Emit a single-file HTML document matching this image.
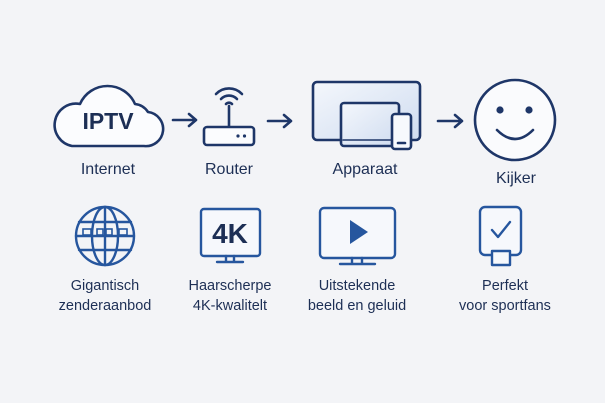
<!DOCTYPE html>
<html><head><meta charset="utf-8"><style>
html,body{margin:0;padding:0;background:#f3f4f7;}
svg{display:block}
text{font-family:"Liberation Sans",sans-serif;fill:#1d2f55;text-anchor:middle}
</style></head><body>
<svg width="605" height="403" viewBox="0 0 605 403">
<defs>
<linearGradient id="g" x1="0" y1="0" x2="1" y2="1"><stop offset="0" stop-color="#f4f7fc"/><stop offset="1" stop-color="#cfdcf0"/></linearGradient>
</defs>
<rect width="605" height="403" fill="#f3f4f7"/>
<g fill="none" stroke="#1e3668" stroke-width="2.6" stroke-linecap="round" stroke-linejoin="round">
<!-- cloud -->
<path d="M72 146 H144 A17 17 0 0 0 148 112 A18 18 0 0 0 135 104 A30 30 0 0 0 80 104 A21 21 0 0 0 72 146 Z" fill="#fbfcfe"/>
<!-- arrows -->
<path d="M173 120 H196 M189 114 L196 120 L189 126"/>
<path d="M268 121 H291 M284 115 L291 121 L284 127"/>
<path d="M438 121 H462 M455 115 L462 121 L455 127"/>
<!-- router -->
<path d="M216 94 A18 18 0 0 1 242 94 M221 99 A11 11 0 0 1 237 99 M226 104 A4 4 0 0 1 232 104"/>
<path d="M229 106 V127"/>
<rect x="204" y="127" width="50" height="18" rx="3" fill="#fbfcfe"/>
<!-- apparaat -->
<rect x="313" y="82" width="107" height="58" rx="4" fill="url(#g)"/>
<rect x="341" y="103" width="58" height="43" rx="3" fill="url(#g)"/>
<path d="M343 140 H397" stroke-width="1.5"/>
<rect x="392" y="114" width="19" height="35" rx="3" fill="#f7f9fd"/>
<path d="M398 143 H405"/>
<!-- smiley -->
<circle cx="515" cy="120" r="40" fill="#fafbfd"/>
<path d="M497 130 Q515 148 533 130"/>
</g>
<circle cx="500" cy="110" r="3.6" fill="#1e3668"/>
<circle cx="529" cy="110" r="3.6" fill="#1e3668"/>
<circle cx="238" cy="136" r="1.6" fill="#1e3668"/>
<circle cx="244.5" cy="136" r="1.6" fill="#1e3668"/>
<text x="108" y="129" font-size="23" font-weight="bold" fill="#1e3668">IPTV</text>
<g font-size="16">
<text x="108" y="174">Internet</text>
<text x="229" y="174">Router</text>
<text x="365" y="174">Apparaat</text>
<text x="516" y="183">Kijker</text>
</g>
<!-- bottom -->
<g fill="none" stroke="#26569e" stroke-width="2.4" stroke-linecap="round" stroke-linejoin="round">
<circle cx="105" cy="236" r="29"/>
<ellipse cx="105" cy="236" rx="13" ry="29"/>
<path d="M105 207 V265 M79 222 H131 M79 250 H131 M76 236 H134"/>
<rect x="201" y="209" width="59" height="47" rx="3" fill="#f6f8fc"/>
<path d="M226 256 V261 M234 256 V261 M217 262 H243"/>
<rect x="320" y="208" width="75" height="50" rx="4" fill="#f6f8fc"/>
<path d="M352 258 V263 M362 258 V263 M340 264 H375"/>
<rect x="480" y="207" width="41" height="48" rx="5" fill="#f6f8fc"/>
<rect x="492" y="251" width="18" height="14" fill="#f6f8fc"/>
<path d="M492 230 L498 237 L510 222"/>
</g>
<g fill="#f3f4f7" stroke="#26569e" stroke-width="1.6">
<rect x="83" y="229" width="8" height="6"/><rect x="97" y="229" width="6" height="6"/><rect x="106" y="229" width="6" height="6"/><rect x="119" y="229" width="8" height="6"/>
</g>
<path d="M350 220 L368 232 L350 244 Z" fill="#26569e"/>
<text x="230" y="243" font-size="28" font-weight="bold" fill="#1e4a8e">4K</text>
<g font-size="14.5">
<text x="105" y="290">Gigantisch</text><text x="105" y="310">zenderaanbod</text>
<text x="230" y="290">Haarscherpe</text><text x="230" y="310">4K-kwalitelt</text>
<text x="357" y="290">Uitstekende</text><text x="357" y="310">beeld en geluid</text>
<text x="505" y="290">Perfekt</text><text x="505" y="310">voor sportfans</text>
</g>
</svg>
</body></html>
